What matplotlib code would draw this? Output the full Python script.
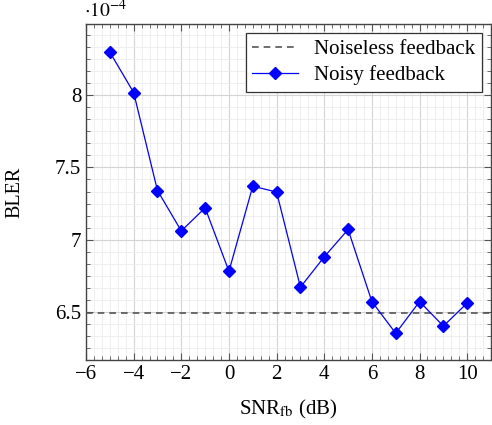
import numpy as np
import matplotlib.pyplot as plt
from matplotlib.ticker import MultipleLocator, AutoMinorLocator, FuncFormatter

plt.rcParams["font.family"] = ["Liberation Serif", "DejaVu Serif"]
plt.rcParams["mathtext.fontset"] = "stix"

snr_fb = [-5, -4, -3, -2, -1, 0, 1, 2, 3, 4, 5, 6, 7, 8, 9, 10]
bler_noisy = [8.30, 8.02, 7.34, 7.06, 7.22, 6.78, 7.37, 7.33, 6.67, 6.88,
              7.07, 6.57, 6.35, 6.57, 6.40, 6.56]
bler_noiseless = 6.49
scale = 1e-4

fig = plt.figure(figsize=(4.92, 4.25), dpi=100)
ax = fig.add_axes([0.1748, 0.153, 0.8232, 0.7905])

ax.axhline(bler_noiseless * scale, color="#555555", lw=1.2, ls=(0, (4, 3)),
           label="Noiseless feedback", zorder=3)
ax.plot(snr_fb, np.array(bler_noisy) * scale, color="blue", lw=0.9,
        marker="D", ms=6, label="Noisy feedback", zorder=4)

ax.set_xlim(-6, 11)
ax.set_ylim(6.165e-4, 8.495e-4)
ax.xaxis.set_major_locator(MultipleLocator(2))
ax.yaxis.set_major_locator(MultipleLocator(0.5e-4))
ax.xaxis.set_minor_locator(AutoMinorLocator(6))
ax.yaxis.set_minor_locator(AutoMinorLocator(6))
ax.xaxis.set_major_formatter(FuncFormatter(lambda v, p: f"{v:g}".replace("-", "\u2212")))
ax.yaxis.set_major_formatter(FuncFormatter(lambda v, p: f"{v / scale:g}"))

ax.grid(which="major", color="#d4d4d4", lw=0.8)
ax.grid(which="minor", color="#ececec", lw=0.6)
ax.set_axisbelow(True)
ax.tick_params(which="both", direction="in", top=True, right=True, colors="#555555",
               labelcolor="black", labelsize=15)
ax.tick_params(which="major", length=5, width=0.8)
ax.tick_params(which="minor", length=3, width=0.6)
for s in ax.spines.values():
    s.set_color("#444444")
    s.set_linewidth(1.0)

# multiplier shown above the y axis, as pgfplots does
ax.text(-0.005, 1.022, r"$\cdot 10^{-4}$", transform=ax.transAxes, fontsize=14,
        ha="left", va="baseline")
ax.set_xlabel(r"SNR$_{\mathrm{fb}}$ (dB)", fontsize=15, labelpad=10)
ax.set_ylabel("BLER", fontsize=14.5, labelpad=22)

leg = ax.legend(loc="upper right", fontsize=15, fancybox=False, framealpha=1,
                edgecolor="#333333", borderpad=0.3, handlelength=2.2,
                handletextpad=0.8, labelspacing=0.3, borderaxespad=0.45)
leg.get_frame().set_linewidth(0.9)

fig.savefig("out.png", dpi=100)
